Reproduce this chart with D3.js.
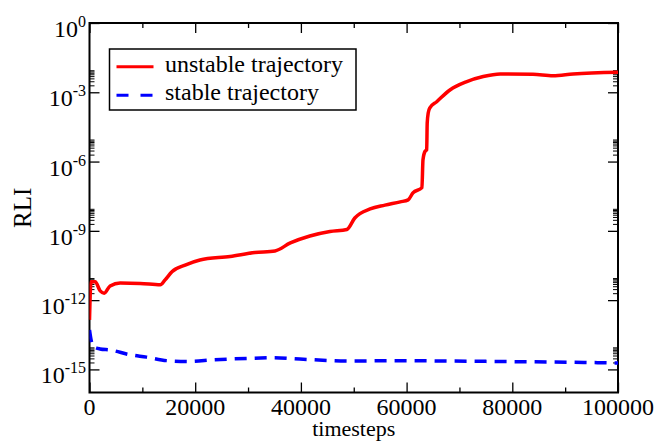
<!DOCTYPE html>
<html>
<head>
<meta charset="utf-8">
<script src="https://cdn.jsdelivr.net/npm/d3@7"></script>
<style>
  body { margin: 0; background: #fff; }
  text { font-family: "Liberation Serif", "Times New Roman", serif; fill: #000; }
</style>
</head>
<body>
<svg width="658" height="441"></svg>
<script>
var svg = d3.select("svg");

// unstable trajectory (red, solid)
var unstableT = [0, 100, 300, 1080, 2020, 2780, 3900, 5800, 9600, 13400, 14300, 15600, 18100, 20900,
    26600, 31300, 35100, 38000, 41700, 45500, 48700, 50200, 53100, 55900, 58800, 60300, 61200, 62900,
    63100, 63500, 63800, 63900, 64100, 64400, 65700, 68200, 71400, 74500, 77700, 83900, 87700, 91500, 100000];
var unstableRLI = [1.4e-13, 1.0e-12, 6.2e-12, 6.3e-12, 2.5e-12, 2.0e-12, 4.1e-12, 5.5e-12, 5.3e-12, 4.6e-12, 7.5e-12, 1.7e-11, 3.3e-11, 5.5e-11,
    7.8e-11, 1.15e-10, 1.35e-10, 3.0e-10, 6.0e-10, 9.4e-10, 1.15e-9, 3.6e-9, 8.9e-9, 1.3e-8, 1.8e-8, 2.2e-8, 4.4e-8, 7.4e-8,
    1.2e-6, 2.8e-6, 3.2e-6, 4.7e-5, 1.3e-4, 2.1e-4, 3.9e-4, 1.26e-3, 2.9e-3, 4.8e-3, 6.2e-3, 6.0e-3, 5.2e-3, 6.2e-3, 7.4e-3];

// stable trajectory (blue, dashed)
var stableT = [0, 300, 760, 2000, 3900, 7700, 10800, 14600, 19000, 23400, 29800, 34800, 39800, 49300, 58800, 68200, 77700, 87100, 100000];
var stableRLI = [5.1e-14, 1.9e-14, 9.8e-15, 7.7e-15, 6.9e-15, 4.3e-15, 3.4e-15, 2.4e-15, 2.2e-15, 2.6e-15, 3.0e-15, 3.2e-15, 2.8e-15, 2.3e-15, 2.4e-15, 2.3e-15, 2.2e-15, 2.1e-15, 1.9e-15];

var xMajor = [0, 20000, 40000, 60000, 80000, 100000];
var xMinor = [10000, 30000, 50000, 70000, 90000];
var yExp = [0, -3, -6, -9, -12, -15];
var seriesNames = ["unstable trajectory", "stable trajectory"];

var pLeft = 89.5, pRight = 618, pTop = 23, pBottom = 392.5;

var x = d3.scaleLinear().domain([0, 100000]).range([pLeft, pRight]);
var y = d3.scaleLog().domain([1e-16, 1]).range([pBottom, pTop]);

var yMajor = yExp.map(function (e) { return Math.pow(10, e); });
var yMinor = [];
yExp.forEach(function (e) {
    if (e >= 0) return;
    for (var k = 2; k <= 9; k++) yMinor.push(k * Math.pow(10, e));
});

svg.append("defs").append("clipPath").attr("id", "clip")
    .append("rect").attr("x", pLeft).attr("y", pTop).attr("width", pRight - pLeft).attr("height", pBottom - pTop);

function tickAxis(axis, tx, ty) {
    var g = svg.append("g").attr("transform", "translate(" + tx + "," + ty + ")").call(axis);
    g.select(".domain").remove();
    g.selectAll("text").remove();
    g.selectAll("line").attr("stroke", "#000").attr("stroke-width", 1.3);
    return g;
}

// inward ticks on all four sides
tickAxis(d3.axisBottom(x).tickValues(xMajor).tickSize(-10), 0, pBottom);
tickAxis(d3.axisBottom(x).tickValues(xMinor).tickSize(-5), 0, pBottom);
tickAxis(d3.axisTop(x).tickValues(xMajor).tickSize(-10), 0, pTop);
tickAxis(d3.axisTop(x).tickValues(xMinor).tickSize(-5), 0, pTop);
tickAxis(d3.axisLeft(y).tickValues(yMajor).tickSize(-10), pLeft, 0);
tickAxis(d3.axisLeft(y).tickValues(yMinor).tickSize(-5), pLeft, 0).selectAll("line").attr("stroke-width", 1);
tickAxis(d3.axisRight(y).tickValues(yMajor).tickSize(-10), pRight, 0);
tickAxis(d3.axisRight(y).tickValues(yMinor).tickSize(-5), pRight, 0).selectAll("line").attr("stroke-width", 1);

// frame
svg.append("rect").attr("x", pLeft).attr("y", pTop).attr("width", pRight - pLeft).attr("height", pBottom - pTop)
    .attr("fill", "none").attr("stroke", "#000").attr("stroke-width", 2);

// x tick labels
svg.append("g").selectAll("text").data(xMajor).enter().append("text")
    .attr("x", function (d) { return x(d); })
    .attr("y", 415)
    .attr("text-anchor", "middle")
    .attr("font-size", 24)
    .text(function (d) { return d; });

// y tick labels with superscript exponent
var yl = svg.append("g").selectAll("text").data(yExp).enter().append("text")
    .attr("x", 86)
    .attr("y", function (d) { return y(Math.pow(10, d)) + 14; })
    .attr("text-anchor", "end")
    .attr("font-size", 24);
yl.append("tspan").text("10");
yl.append("tspan").attr("font-size", 16).attr("dy", -10).text(function (d) { return d; });

// axis titles
svg.append("text").attr("x", (pLeft + pRight) / 2).attr("y", 436)
    .attr("text-anchor", "middle").attr("font-size", 22).text("timesteps");
svg.append("text").attr("transform", "translate(31," + ((pTop + pBottom) / 2) + ") rotate(-90)")
    .attr("text-anchor", "middle").attr("font-size", 25).text("RLI");

var line = d3.line()
    .x(function (d) { return x(d[0]); })
    .y(function (d) { return y(d[1]); })
    .curve(d3.curveMonotoneX);

var plot = svg.append("g").attr("clip-path", "url(#clip)");
plot.append("path")
    .datum(d3.zip(unstableT, unstableRLI))
    .attr("d", line)
    .attr("fill", "none").attr("stroke", "#ff0000").attr("stroke-width", 3.5);
plot.append("path")
    .datum(d3.zip(stableT, stableRLI))
    .attr("d", line)
    .attr("fill", "none").attr("stroke", "#0000ff").attr("stroke-width", 3.5)
    .attr("stroke-dasharray", "12,8");

// legend
var legend = svg.append("g");
legend.append("rect").attr("x", 109.5).attr("y", 49).attr("width", 246.5).attr("height", 61)
    .attr("fill", "#fff").attr("stroke", "#000").attr("stroke-width", 1.5);
var colors = ["#ff0000", "#0000ff"];
var dashes = [null, "12,12"];
seriesNames.forEach(function (name, i) {
    var ly = 66.7 + i * 28.5;
    legend.append("line").attr("x1", 116.5).attr("x2", 153.5).attr("y1", ly).attr("y2", ly)
        .attr("stroke", colors[i]).attr("stroke-width", 3).attr("stroke-dasharray", dashes[i]);
    legend.append("text").attr("x", 165).attr("y", ly + 5.2).attr("font-size", 24).text(name);
});
</script>
</body>
</html>
